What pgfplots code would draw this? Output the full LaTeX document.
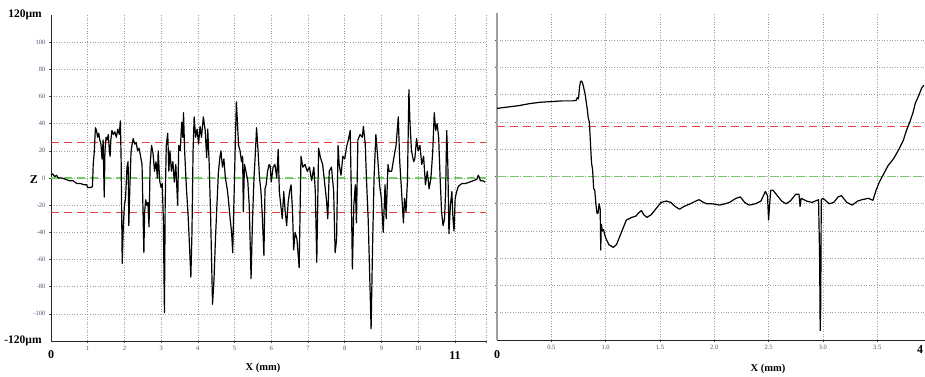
\documentclass[border=0pt]{standalone}
\usepackage{fontspec}
\setmainfont{Liberation Serif}
\usepackage{pgfplots}
\pgfplotsset{compat=1.18}
\definecolor{refred}{rgb}{0.90,0.25,0.25}
\definecolor{refgreen}{rgb}{0.45,0.80,0.40}
\definecolor{ticklab}{RGB}{80,80,110}
\begin{document}
\begin{tikzpicture}
\useasboundingbox (0pt,0pt) rectangle (925pt,-376pt);
\pgfplotsset{
  prof/.style={
    scale only axis, clip=false,
    ymin=-120, ymax=120,
    axis x line=bottom, axis y line=left,
    axis line style={-, line width=1pt, black!85},
    ytick={-100,-80,-60,-40,-20,0,20,40,60,80,100},
    grid=major,
    major grid style={gray!75, line width=0.6pt, dash pattern=on 1pt off 1.6pt},
    tick align=outside, major tick length=2pt,
    tick style={black!70, line width=0.6pt},
    xticklabel style={font=\fontsize{6.5}{7}\selectfont, text=ticklab},
    yticklabel style={font=\fontsize{6.5}{7}\selectfont, text=ticklab},
  }
}
% ---------------- left panel ----------------
\begin{axis}[prof,
  at={(51pt,-341pt)}, anchor=south west,
  width=435pt, height=326pt,
  xmin=0, xmax=11.85,
  xtick={1,2,3,4,5,6,7,8,9,10,11,11.85},
  xticklabels={1,2,3,4,5,6,7,8,9,10,,},
  yticklabels={-100,-80,-60,-40,-20,0,20,40,60,80,100},
]
\addplot[color=refred, line width=1.3pt, dash pattern=on 8pt off 5pt] coordinates {(0,26) (11.85,26)};
\addplot[color=refgreen, line width=1.3pt, dash pattern=on 8pt off 5pt] coordinates {(0,0) (11.85,0)};
\addplot[color=refred, line width=1.3pt, dash pattern=on 8pt off 5pt] coordinates {(0,-25.6) (11.85,-25.6)};
\addplot[black, line width=1.2pt, line join=round] coordinates {
(0.00,2) (0.05,3) (0.10,1) (0.15,2) (0.20,0) (0.30,0) (0.40,-1) (0.50,-2) (0.60,-2) (0.70,-4)
(0.80,-4) (0.90,-5) (0.97,-5) (1.00,-7) (1.10,-7) (1.13,-6) (1.15,10) (1.18,20) (1.21,37) (1.24,35)
(1.27,30) (1.30,33) (1.33,28) (1.36,25) (1.39,14) (1.42,28) (1.45,-14) (1.47,20) (1.50,30) (1.53,28)
(1.56,32) (1.59,20) (1.61,16) (1.63,28) (1.66,35) (1.70,32) (1.74,34) (1.78,30) (1.82,36) (1.86,32)
(1.89,42) (1.91,14) (1.94,-63) (1.97,-35) (2.00,-20) (2.03,-15) (2.07,8) (2.10,12) (2.12,-35) (2.15,-5)
(2.18,19) (2.21,25) (2.24,29) (2.28,25) (2.32,26) (2.36,20) (2.40,22) (2.44,16) (2.48,10) (2.53,-55)
(2.55,-25) (2.58,-16) (2.61,-20) (2.64,-18) (2.67,-36) (2.70,10) (2.74,24) (2.78,18) (2.82,5) (2.86,12)
(2.90,0) (2.92,20) (2.96,-2) (3.00,-7) (3.03,-4) (3.06,-30) (3.09,-99) (3.11,-20) (3.14,24) (3.18,33)
(3.21,5) (3.24,20) (3.28,5) (3.32,12) (3.36,-3) (3.40,10) (3.45,-20) (3.48,24) (3.52,20) (3.56,41)
(3.59,30) (3.61,48) (3.64,20) (3.69,-8) (3.73,-25) (3.76,-42) (3.81,-73) (3.84,-40) (3.87,20) (3.90,45)
(3.94,30) (3.98,36) (4.02,25) (4.06,38) (4.10,30) (4.15,45) (4.20,35) (4.24,15) (4.27,36) (4.31,10)
(4.35,-30) (4.40,-93) (4.44,-75) (4.48,-45) (4.52,-20) (4.56,4) (4.60,15) (4.63,20) (4.67,8) (4.71,14)
(4.75,0) (4.80,-8) (4.83,-15) (4.88,-30) (4.92,-40) (4.95,-55) (4.99,-10) (5.02,25) (5.05,56) (5.08,40)
(5.11,24) (5.15,20) (5.19,12) (5.22,16) (5.24,-25) (5.27,10) (5.31,5) (5.36,-2) (5.40,-20) (5.45,-74)
(5.49,-30) (5.53,0) (5.57,20) (5.60,37) (5.64,20) (5.68,0) (5.72,-10) (5.76,-30) (5.80,-57) (5.83,-8)
(5.86,-5) (5.90,5) (5.94,10) (5.97,9) (6.00,-3) (6.05,8) (6.10,10) (6.15,0) (6.19,21) (6.22,-10)
(6.26,-20) (6.30,-30) (6.34,-10) (6.38,-25) (6.42,-35) (6.46,-18) (6.50,-10) (6.54,-5) (6.58,-25) (6.61,-53)
(6.65,-40) (6.70,-45) (6.76,-66) (6.81,16) (6.86,8) (6.92,10) (6.98,5) (7.04,8) (7.10,-2) (7.16,8)
(7.20,-10) (7.24,-62) (7.29,22) (7.34,15) (7.40,10) (7.46,-5) (7.50,-15) (7.54,-30) (7.58,5) (7.64,8)
(7.70,-10) (7.74,-55) (7.78,-45) (7.82,24) (7.85,10) (7.90,2) (7.95,16) (8.00,14) (8.06,24) (8.10,28)
(8.15,35) (8.18,-10) (8.21,-67) (8.25,-20) (8.29,-5) (8.32,-33) (8.36,28) (8.42,32) (8.48,30) (8.51,38)
(8.56,25) (8.60,-5) (8.64,-30) (8.68,-70) (8.72,-111) (8.76,-50) (8.80,0) (8.85,32) (8.90,15) (8.95,-5)
(9.00,-15) (9.05,-40) (9.10,-5) (9.13,-30) (9.18,10) (9.21,5) (9.28,5) (9.34,15) (9.40,24) (9.46,45)
(9.50,12) (9.55,-10) (9.60,-33) (9.63,-15) (9.67,-25) (9.71,-2) (9.75,65) (9.78,40) (9.82,20) (9.88,12)
(9.91,14) (9.96,29) (10.00,20) (10.05,24) (10.10,10) (10.15,16) (10.20,-5) (10.25,5) (10.30,-8) (10.35,0)
(10.40,20) (10.44,48) (10.48,35) (10.52,40) (10.56,30) (10.60,0) (10.64,-25) (10.68,-35) (10.72,-30) (10.75,-10)
(10.78,35) (10.81,10) (10.84,-41) (10.88,-20) (10.92,-10) (10.95,-30) (10.98,-39) (11.01,-15) (11.05,-10) (11.10,-6)
(11.15,-5) (11.20,-4) (11.30,-4) (11.40,-3) (11.50,-2) (11.60,-1) (11.64,2) (11.66,1) (11.70,-2) (11.75,-2)
(11.83,-3)
};
\end{axis}
% ---------------- right panel ----------------
\begin{axis}[prof,
  at={(497pt,-340pt)}, anchor=south west,
  width=428pt, height=327pt,
  xmin=0, xmax=3.94,
  xtick={0.5,1,1.5,2,2.5,3,3.5},
  xticklabels={0.5,1.0,1.5,2.0,2.5,3.0,3.5},
  yticklabels={},
  y axis line style={gray!75, line width=1.3pt},
]
\addplot[color=refgreen, line width=1.3pt, dash pattern=on 8pt off 5pt] coordinates {(0,0) (3.94,0)};
\addplot[color=refred, line width=1.3pt, dash pattern=on 8pt off 5pt] coordinates {(0,36.5) (3.94,36.5)};
\addplot[black, line width=1.2pt, line join=round] coordinates {
(0.00,50) (0.10,51) (0.20,52) (0.30,53.5) (0.40,54.5) (0.50,55) (0.60,55.5) (0.70,55.5) (0.73,56) (0.74,58)
(0.75,57) (0.76,66) (0.77,70) (0.78,70) (0.79,68) (0.81,61) (0.83,50) (0.84,43) (0.85,40) (0.86,25)
(0.87,10) (0.88,5) (0.89,-9) (0.90,-10) (0.91,-20) (0.92,-27) (0.93,-27) (0.94,-20) (0.95,-24) (0.955,-54)
(0.96,-35) (0.97,-40) (0.98,-39) (1.00,-45) (1.03,-50) (1.07,-52) (1.10,-50) (1.14,-42) (1.19,-32) (1.24,-30)
(1.28,-29) (1.30,-27) (1.33,-25) (1.35,-28) (1.38,-30) (1.42,-28) (1.47,-23) (1.51,-19) (1.56,-18) (1.60,-19)
(1.64,-22) (1.68,-24) (1.72,-22) (1.78,-20) (1.83,-18) (1.86,-17) (1.90,-19) (1.93,-20) (1.98,-20) (2.05,-21)
(2.10,-20) (2.14,-19) (2.20,-16) (2.24,-15) (2.28,-19) (2.32,-21) (2.38,-20) (2.43,-18) (2.47,-11) (2.49,-14)
(2.50,-32) (2.51,-20) (2.52,-10) (2.54,-10) (2.58,-14) (2.62,-18) (2.66,-20) (2.70,-18) (2.75,-13) (2.78,-13)
(2.79,-22) (2.80,-16) (2.85,-18) (2.90,-19) (2.96,-17) (2.97,-60) (2.975,-113) (2.98,-95) (2.985,-17) (3.00,-16)
(3.06,-20) (3.10,-19) (3.14,-15) (3.17,-14) (3.22,-19) (3.27,-21) (3.32,-18) (3.36,-17) (3.42,-16) (3.46,-17.5)
(3.49,-10) (3.52,-4) (3.56,2) (3.60,8) (3.65,13) (3.70,20) (3.74,26.5) (3.77,34) (3.80,40) (3.83,47)
(3.85,53.6) (3.88,59) (3.91,65) (3.93,67)
};
\end{axis}
% ---------------- free texts ----------------
\node[font=\fontsize{11.5}{12}\selectfont\bfseries] at (25pt,-15pt) {120µm};
\node[font=\fontsize{11.5}{12}\selectfont\bfseries] at (23pt,-341pt) {-120µm};
\node[font=\fontsize{12}{13}\selectfont\bfseries] at (34pt,-180pt) {Z};
\node[font=\fontsize{12}{13}\selectfont\bfseries] at (51pt,-355pt) {0};
\node[font=\fontsize{12}{13}\selectfont\bfseries] at (455pt,-356pt) {11};
\node[font=\fontsize{10.5}{12}\selectfont\bfseries] at (263pt,-368pt) {X (mm)};
\node[font=\fontsize{12}{13}\selectfont\bfseries] at (497pt,-355pt) {0};
\node[font=\fontsize{12}{13}\selectfont\bfseries] at (920pt,-350pt) {4};
\node[font=\fontsize{10.5}{12}\selectfont\bfseries] at (768pt,-369pt) {X (mm)};
\end{tikzpicture}
\end{document}
